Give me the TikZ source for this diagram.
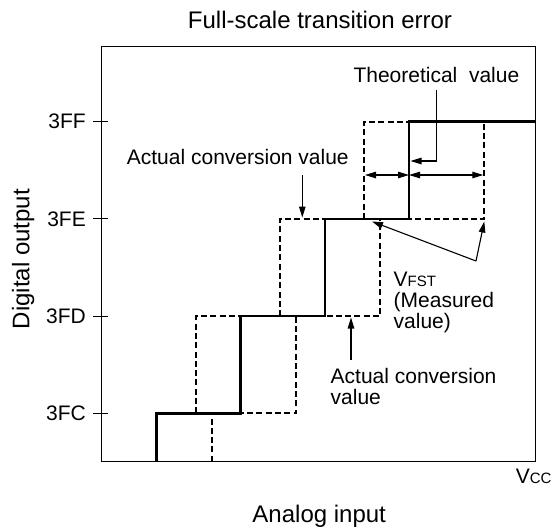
\documentclass[tikz,border=0pt]{standalone}
\usepackage{fontspec}
\setmainfont{Liberation Sans}
\usetikzlibrary{arrows.meta}
\newcommand\smtxt[1]{{\fontsize{15}{15}\selectfont #1}}
\begin{document}
\begin{tikzpicture}[>={Triangle[length=11pt,width=6.5pt]},line join=miter,x=1pt,y=-1pt,
	lbl/.style={font=\fontsize{21}{21}\selectfont,inner sep=0pt},
	big/.style={font=\fontsize{24}{24}\selectfont,inner sep=0pt},
	stair/.style={line width=2.7pt},
	dstair/.style={line width=2.3pt,dash pattern=on 6pt off 3.3pt},
	thin/.style={line width=1.1pt}]
	\tikzset{declare function={
			x1=101.7;x2=535.7;y1=46.7;y2=461.7;
			rs(\k)=156.7+84.1*\k;
			lv(\k)=413.3-97.2*\k;
	}}
	\useasboundingbox (0,0) rectangle (558,531);
	\draw[thin] (x1,y1) rectangle (x2,y2);
	\foreach \k/\txt in {0/3FC,1/3FD,2/3FE,3/3FF}{
		\draw[thin] (93,{lv(\k)})--(108.3,{lv(\k)});
		\node[lbl,anchor=east] (t\txt) at (86,{lv(\k)}) {\txt};
	}
	% actual (dashed)
	\draw[dstair] (211.7,y2) |- (295.7,{lv(0)}) |- (380,{lv(1)}) |- (484.3,{lv(2)}) -- (484.3,{lv(3)});
	\foreach \k/\xd in {0/196,1/280,2/364}{
		\draw[dstair] (\xd,{lv(\k)}) |- ({rs(\k+1)},{lv(\k+1)});
	}
	% theoretical
	\draw[stair] ({rs(0)},y2) |- ({rs(1)},{lv(0)}) |- ({rs(2)},{lv(1)}) |- ({rs(3)},{lv(2)}) |- (x2,{lv(3)});
	\node[big,anchor=base] (ttl) at (320,28.3) {Full-scale transition error};
	\node[big,anchor=base] (ain) at (319.2,522) {Analog input};
	\node[big,rotate=90,anchor=base] (dout) at (29.3,259.2) {Digital output};
	\node[lbl,anchor=base east] (vcc) at (551.7,483.3) {V\smtxt{CC}};
	\node[lbl,anchor=base west] (theo) at (353.3,82) {Theoretical\ \ value};
	\node[lbl,anchor=base west] (act1) at (126.7,164) {Actual conversion value};
	\node[lbl,anchor=base west] (vfst) at (393.5,286) {V\smtxt{FST}};
	\node[lbl,anchor=base west] (meas) at (393.5,307) {(Measured};
	\node[lbl,anchor=base west] (measv) at (393.5,328) {value)};
	\node[lbl,anchor=base west] (act2) at (330.5,383.3) {Actual conversion};
	\node[lbl,anchor=base west] (act2v) at (330.5,404) {value};
	\path (410.5,161) coordinate (tv)
		(365,175) coordinate (dl) (409,175) coordinate (dm) (483.3,175) coordinate (dr)
		(302.3,175) coordinate (a1s) (302.3,217.5) coordinate (a1e)
		(351,359.5) coordinate (a2s) (351,317.5) coordinate (a2e)
		(476,261) coordinate (vj) (372,221.5) coordinate (vt1) (484.3,221.5) coordinate (vt2);
	\draw[thin,->] ([yshift=-8pt]theo.south) |- (tv);
	\draw[thin,<->] (dl)--(dm);
	\draw[thin,<->] (dm)--(dr);
	\draw[thin,->] (a1s)--(a1e);
	\draw[thin,->] (a2s)--(a2e);
	\draw[thin,->] (vj)--(vt1);
	\draw[thin,->] (vj)--(vt2);
\end{tikzpicture}
\end{document}
